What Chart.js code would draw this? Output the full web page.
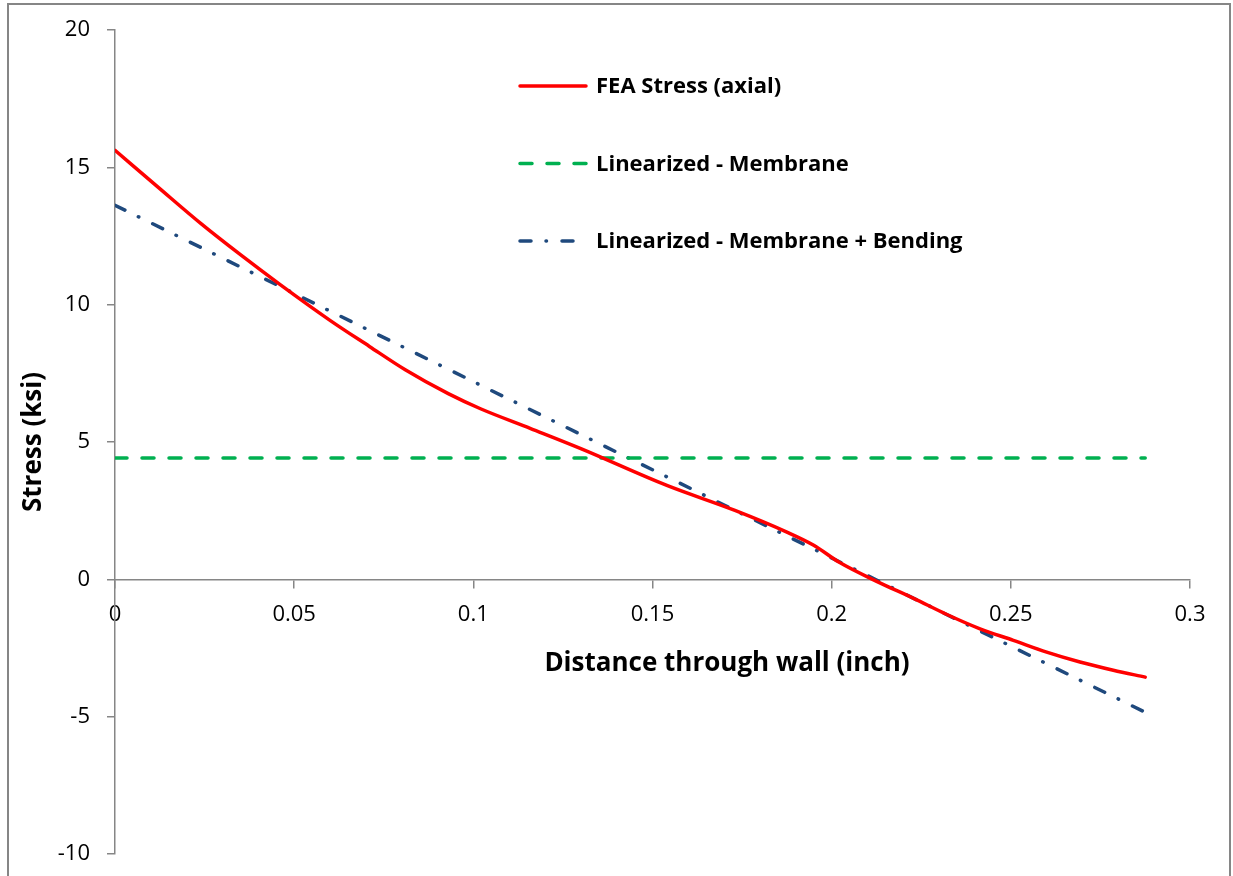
<!DOCTYPE html>
<html>
<head>
<meta charset="utf-8">
<script src="https://cdn.jsdelivr.net/npm/chart.js@4.4.1/dist/chart.umd.min.js"></script>
<style>
    html, body { margin: 0; padding: 0; background: #fff; }
    #wrap { width: 1233px; height: 876px; }
</style>
</head>
<body>
<div id="wrap"><canvas id="stressChart" width="1233" height="876"></canvas></div>
<script>
// FEA stress through the wall
const wallX = [0, 0.012, 0.024, 0.035, 0.046, 0.060, 0.071, 0.081, 0.093, 0.102, 0.116, 0.130,
    0.154, 0.173, 0.1875, 0.195, 0.202, 0.213, 0.223, 0.232, 0.2414, 0.2507, 0.26, 0.2693, 0.2786, 0.2875];
const feaStress = [15.62, 14.28, 12.95, 11.82, 10.74, 9.43, 8.48, 7.63, 6.76, 6.21, 5.49, 4.76,
    3.42, 2.51, 1.72, 1.24, 0.63, -0.10, -0.70, -1.27, -1.80, -2.22, -2.65, -3.01, -3.31, -3.56];

// linearized stresses (start / end of wall)
const linX = [0, 0.2875];
const membrane = [4.42, 4.42];
const membraneBending = [13.62, -4.84];

const xTicks = [0, 0.05, 0.1, 0.15, 0.2, 0.25, 0.3];
const yTicks = [-10, -5, 0, 5, 10, 15, 20];

const labels = ['FEA Stress (axial)', 'Linearized - Membrane', 'Linearized - Membrane + Bending'];
const xTitleText = 'Distance through wall (inch)';
const yTitleText = 'Stress (ksi)';

const axisGray = '#868686';
const toPoints = (xs, ys) => xs.map((x, i) => ({ x: x, y: ys[i] }));

// white background + outer frame
const framePlugin = {
    id: 'frame',
    beforeDraw(chart) {
        const ctx = chart.ctx;
        ctx.save();
        ctx.fillStyle = '#fff';
        ctx.fillRect(0, 0, chart.width, chart.height);
        ctx.strokeStyle = axisGray;
        ctx.lineWidth = 2;
        ctx.strokeRect(8, 4, 1222, 900);
        ctx.restore();
    }
};

// legend inside the plot, and the x axis title (offset to the right like the original)
const legendPlugin = {
    id: 'lineLegend',
    afterDraw(chart) {
        const ctx = chart.ctx;
        chart.data.datasets.forEach((ds, i) => {
            const y = 86 + i * 77.5;
            ctx.save();
            ctx.strokeStyle = ds.borderColor;
            ctx.lineWidth = ds.borderWidth;
            ctx.lineCap = ds.borderCapStyle || 'butt';
            ctx.setLineDash(ds.borderDash || []);
            ctx.beginPath();
            ctx.moveTo(520, y);
            ctx.lineTo(586, y);
            ctx.stroke();
            ctx.setLineDash([]);
            ctx.fillStyle = '#000';
            ctx.font = 'bold 22px "Open Sans"';
            ctx.textBaseline = 'middle';
            ctx.fillText(ds.label, 596, y + 1);
            ctx.restore();
        });

        ctx.save();
        ctx.fillStyle = '#000';
        ctx.font = 'bold 26px "Open Sans"';
        ctx.textAlign = 'center';
        ctx.textBaseline = 'middle';
        ctx.fillText(xTitleText, 727, 664);
        ctx.restore();
    }
};

new Chart(document.getElementById('stressChart'), {
    type: 'line',
    data: {
        datasets: [
            {
                label: labels[0],
                data: toPoints(wallX, feaStress),
                borderColor: '#FF0000',
                borderWidth: 3.5,
                borderCapStyle: 'round',
                cubicInterpolationMode: 'monotone',
                pointRadius: 0
            },
            {
                label: labels[1],
                data: toPoints(linX, membrane),
                borderColor: '#00B050',
                borderWidth: 3.5,
                borderCapStyle: 'round',
                borderDash: [12, 15],
                pointRadius: 0
            },
            {
                label: labels[2],
                data: toPoints(linX, membraneBending),
                borderColor: '#1F497D',
                borderWidth: 3.5,
                borderCapStyle: 'round',
                borderDash: [11, 15, 0.5, 15.5],
                pointRadius: 0
            }
        ]
    },
    options: {
        responsive: false,
        animation: false,
        devicePixelRatio: 1,
        layout: { padding: { left: 0, top: 30, right: 43, bottom: 22 } },
        plugins: {
            legend: { display: false },
            tooltip: { enabled: false }
        },
        scales: {
            x: {
                type: 'linear',
                min: 0,
                max: 0.3,
                position: { y: 0 },
                afterBuildTicks: (scale) => { scale.ticks = xTicks.map(v => ({ value: v })); },
                ticks: {
                    color: '#000',
                    font: { family: '"Open Sans"', size: 22 },
                    padding: 14,
                    maxRotation: 0,
                    callback: (v) => String(v)
                },
                grid: { drawOnChartArea: false, drawTicks: true, tickLength: 8, color: axisGray, lineWidth: 1.5 },
                border: { color: axisGray, width: 1.5 }
            },
            y: {
                type: 'linear',
                min: -10,
                max: 20,
                position: 'left',
                afterBuildTicks: (scale) => { scale.ticks = yTicks.map(v => ({ value: v })); },
                afterFit: (scale) => {
                    scale.width = 115;
                    // keep the label padding from pushing the plot area in
                    scale.paddingTop = 0;
                    scale.paddingBottom = 0;
                },
                ticks: {
                    color: '#000',
                    font: { family: '"Open Sans"', size: 22 },
                    padding: 17
                },
                title: {
                    display: true,
                    text: yTitleText,
                    color: '#000',
                    font: { family: '"Open Sans"', size: 26, weight: 'bold' },
                    padding: { top: 18, bottom: 0 }
                },
                grid: { drawOnChartArea: false, drawTicks: true, tickLength: 8, color: axisGray, lineWidth: 1.5 },
                border: { color: axisGray, width: 1.5 }
            }
        }
    },
    plugins: [framePlugin, legendPlugin]
});
</script>
</body>
</html>
